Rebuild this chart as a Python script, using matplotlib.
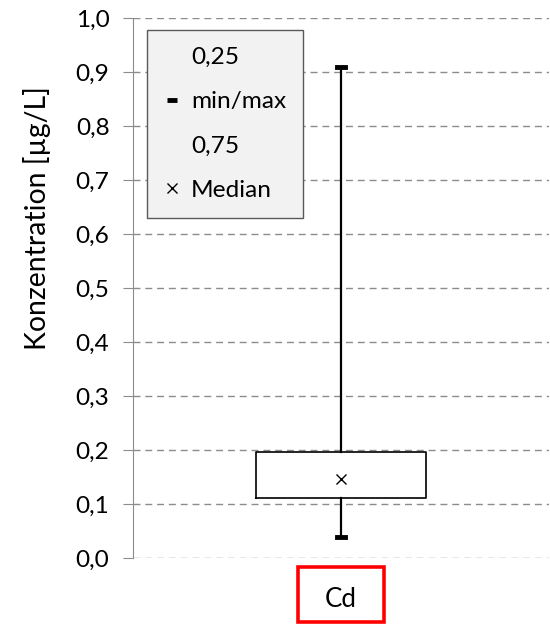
import matplotlib
matplotlib.use("Agg")
import matplotlib.pyplot as plt
from matplotlib.lines import Line2D
from matplotlib.patches import Rectangle
from matplotlib.ticker import FuncFormatter

plt.rcParams['font.family'] = ['Lato', 'DejaVu Sans']

categories = ["Cd"]
q1 = [0.111]
q3 = [0.196]
median = [0.146]
vmin = [0.039]
vmax = [0.910]
yticks = [0.0, 0.1, 0.2, 0.3, 0.4, 0.5, 0.6, 0.7, 0.8, 0.9, 1.0]
legend_labels = ["0,25", "min/max", "0,75", "Median"]
ylabel = "Konzentration [µg/L]"

W, H = 550, 626
fig = plt.figure(figsize=(W / 100, H / 100), dpi=100)
renderer = fig.canvas.get_renderer()


def fit_size(s, target_px, base=20.0):
    t = fig.text(0, 0, s, fontsize=base)
    w = t.get_window_extent(renderer).width
    t.remove()
    return base * target_px / w


tick_fs = fit_size("1,0", 34)
legend_fs = fit_size("min/max", 95)
ylabel_fs = fit_size(ylabel, 263)
cat_fs = fit_size("Cd", 32)

ax = fig.add_axes([133 / W, 1 - 558 / H, (549 - 133) / W, (558 - 18) / H])

stats = []
for i, c in enumerate(categories):
    stats.append(dict(label=c, med=median[i], q1=q1[i], q3=q3[i],
                      whislo=vmin[i], whishi=vmax[i], mean=median[i], fliers=[]))

ax.bxp(stats, positions=[1], widths=0.41, showmeans=True, showfliers=False,
       boxprops=dict(color='black', linewidth=1.2),
       whiskerprops=dict(color='black', linewidth=1.6),
       capprops=dict(color='black', linewidth=3.5),
       capwidths=0.02,
       medianprops=dict(linewidth=0, alpha=0),
       meanprops=dict(marker='x', markeredgecolor='black', markersize=7, markeredgewidth=1.0),
       zorder=3)

ax.set_xlim(0.5, 1.5)
ax.set_ylim(0, 1.0)
ax.set_yticks(yticks)
ax.yaxis.set_major_formatter(FuncFormatter(lambda v, p: f"{v:.1f}".replace('.', ',')))
ax.grid(axis='y', color='#8c8c8c', linestyle=(0, (5, 3.5)), linewidth=1.0, zorder=0)
for s in ['top', 'right', 'bottom']:
    ax.spines[s].set_visible(False)
ax.spines['left'].set_color('#8c8c8c')
ax.tick_params(axis='y', direction='out', length=7, color='#8c8c8c', labelsize=tick_fs, pad=10)
ax.tick_params(axis='x', length=0, labelsize=cat_fs, pad=21)
ax.set_ylabel(ylabel, fontsize=ylabel_fs)
# label centred at (37, 218) px in figure
ax.yaxis.set_label_coords(37 / W, 1 - 218 / H, transform=fig.transFigure)
ax.yaxis.label.set_verticalalignment('center')

# red highlight around the category label
fig.patches.append(Rectangle((298 / W, 1 - 622 / H), (384 - 298) / W, (622 - 567) / H,
                             transform=fig.transFigure, fill=False,
                             edgecolor='#ff0000', linewidth=2.6))

handles = [
    Line2D([], [], linestyle='none'),
    Line2D([], [], linestyle='none', marker='_', markersize=7, markeredgewidth=3.5, color='black'),
    Line2D([], [], linestyle='none'),
    Line2D([], [], linestyle='none', marker='x', markersize=6.5, markeredgewidth=1.0, color='black'),
]
leg = ax.legend(handles, legend_labels, loc='upper left', bbox_to_anchor=(0.034, 0.978),
                fontsize=legend_fs, frameon=True, fancybox=False, handlelength=0.6,
                handletextpad=0.5, labelspacing=0.95, borderpad=0.7, borderaxespad=0)
leg.get_frame().set_facecolor('#f2f2f2')
leg.get_frame().set_edgecolor('#595959')
leg.get_frame().set_linewidth(1.0)
leg.get_frame().set_alpha(1)

fig.savefig("out.png", dpi=100)
